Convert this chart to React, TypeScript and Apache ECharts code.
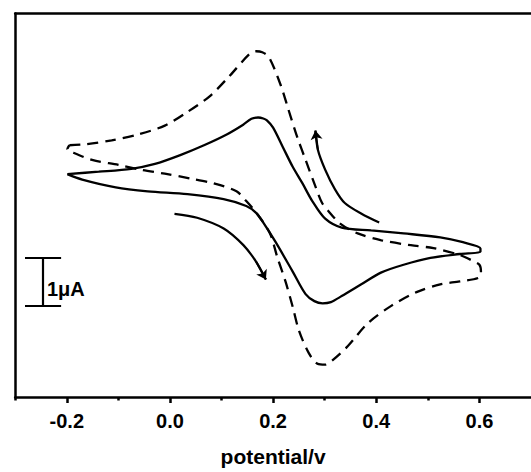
import React, { useEffect, useRef } from "react";
import * as echarts from "echarts";

// x range (potential, V) and y range (current, µA)
const xRange = [-0.3, 0.7];
const yRange = [-4, 4];
const majorTicks = [-0.2, 0, 0.2, 0.4, 0.6];
const minorTicks = [-0.3, -0.1, 0.1, 0.3, 0.5];

// solid CV loop [potential, current]
const solidCurve: [number, number][] = [
  [-0.199, 0.65], [-0.138, 0.70], [-0.075, 0.761], [-0.029, 0.863], [0.020, 1.047],
  [0.066, 1.252], [0.110, 1.477], [0.142, 1.681], [0.158, 1.804], [0.171, 1.83],
  [0.181, 1.81], [0.188, 1.77], [0.200, 1.62], [0.219, 1.211], [0.238, 0.802],
  [0.257, 0.455], [0.276, 0.087], [0.301, -0.281], [0.333, -0.465], [0.390, -0.526],
  [0.453, -0.588], [0.524, -0.669], [0.568, -0.771], [0.602, -0.90], [0.602, -0.97],
  [0.562, -1.017], [0.505, -1.098], [0.453, -1.241], [0.409, -1.405], [0.371, -1.65],
  [0.333, -1.895], [0.312, -2.02], [0.296, -2.045], [0.280, -2.0], [0.263, -1.854],
  [0.238, -1.384], [0.205, -0.771], [0.181, -0.362], [0.167, -0.158], [0.148, -0.015],
  [0.104, 0.128], [0.034, 0.23], [-0.043, 0.291], [-0.105, 0.373], [-0.170, 0.536],
  [-0.199, 0.65],
];

// dashed CV loop [potential, current]
const dashedCurve: [number, number][] = [
  [-0.195, 1.252], [-0.163, 1.272], [-0.113, 1.354], [-0.062, 1.477], [-0.010, 1.661],
  [0.034, 1.947], [0.077, 2.273], [0.116, 2.702], [0.154, 3.152], [0.167, 3.213],
  [0.179, 3.193], [0.192, 3.09], [0.215, 2.498], [0.230, 1.987], [0.247, 1.415],
  [0.263, 0.945], [0.282, 0.394], [0.295, 0.046], [0.307, -0.118], [0.330, -0.384],
  [0.364, -0.588], [0.410, -0.731], [0.467, -0.834], [0.511, -0.895], [0.562, -1.037],
  [0.587, -1.16], [0.600, -1.241], [0.603, -1.384], [0.600, -1.507], [0.562, -1.589],
  [0.524, -1.65], [0.478, -1.813], [0.429, -2.099], [0.383, -2.467], [0.345, -2.937],
  [0.314, -3.243], [0.301, -3.325], [0.286, -3.305], [0.269, -3.08], [0.250, -2.61],
  [0.238, -2.12], [0.224, -1.589], [0.208, -1.078], [0.194, -0.588], [0.169, -0.179],
  [0.148, 0.087], [0.129, 0.291], [0.085, 0.455], [0.040, 0.557], [-0.010, 0.659],
  [-0.056, 0.741], [-0.100, 0.843], [-0.151, 0.945], [-0.190, 1.109], [-0.199, 1.17],
  [-0.195, 1.252],
];

// sweep-direction arrows (last point is the tip)
const arrowUp: [number, number][] = [
  [0.4057, -0.362], [0.3714, -0.178], [0.339, 0.046], [0.320, 0.332],
  [0.301, 0.741], [0.287, 1.15], [0.282, 1.558],
];
const arrowDown: [number, number][] = [
  [0.0088, -0.179], [0.0527, -0.26], [0.1042, -0.485], [0.1424, -0.832],
  [0.1672, -1.18], [0.186, -1.547],
];

// 1 µA scale bar
const barX = [-0.281, -0.2475, -0.211];
const barY = [-2.1, -1.1];
const barLabel = "1\u03bcA";

const FONT = "'Liberation Sans', Arial, sans-serif";

export default function App() {
  const ref = useRef<HTMLDivElement>(null);
  useEffect(() => {
    if (!ref.current) return;
    const chart = echarts.init(ref.current, undefined, { renderer: "svg" });
    const black = "#000";
    const last2 = (a: [number, number][]) => [a[a.length - 2], a[a.length - 1]];
    chart.setOption({
      animation: false,
      backgroundColor: "#fff",
      grid: { left: 15.2, top: 13.5, bottom: 67, right: -8.2, containLabel: false },
      xAxis: [
        {
          type: "value",
          position: "bottom",
          min: xRange[0],
          max: xRange[1],
          axisLine: { show: true, onZero: false, lineStyle: { color: black, width: 2.5 } },
          axisTick: { show: true, customValues: majorTicks, length: 6, lineStyle: { color: black, width: 2.5 } },
          axisLabel: {
            show: true,
            customValues: majorTicks,
            formatter: (v: number) => v.toFixed(1),
            color: black,
            fontSize: 20,
            fontWeight: "bold",
            fontFamily: FONT,
            margin: 14,
          },
          splitLine: { show: false },
          name: "potential/v",
          nameLocation: "middle",
          nameGap: 49,
          nameTextStyle: { color: black, fontSize: 21, fontWeight: "bold", fontFamily: FONT },
        },
        {
          type: "value",
          position: "bottom",
          min: xRange[0],
          max: xRange[1],
          axisLine: { show: false, onZero: false },
          axisTick: { show: true, customValues: minorTicks, length: 3.5, lineStyle: { color: black, width: 2.5 } },
          axisLabel: { show: false },
          splitLine: { show: false },
        },
        {
          type: "value",
          position: "top",
          min: xRange[0],
          max: xRange[1],
          axisLine: { show: true, onZero: false, lineStyle: { color: black, width: 2.5 } },
          axisTick: { show: false },
          axisLabel: { show: false },
          splitLine: { show: false },
        },
      ],
      yAxis: {
        type: "value",
        position: "left",
        min: yRange[0],
        max: yRange[1],
        axisLine: { show: true, onZero: false, lineStyle: { color: black, width: 2.5 } },
        axisTick: { show: false },
        axisLabel: { show: false },
        splitLine: { show: false },
      },
      series: [
        {
          type: "line",
          data: solidCurve,
          smooth: 0.3,
          showSymbol: false,
          symbol: "none",
          lineStyle: { color: black, width: 2.3 },
        },
        {
          type: "line",
          data: dashedCurve,
          smooth: 0.3,
          showSymbol: false,
          symbol: "none",
          lineStyle: { color: black, width: 2.3, type: [11, 7] },
        },
        {
          type: "line",
          data: arrowUp,
          smooth: 0.3,
          showSymbol: false,
          symbol: "none",
          lineStyle: { color: black, width: 2.2 },
        },
        {
          type: "line",
          data: arrowDown,
          smooth: 0.3,
          showSymbol: false,
          symbol: "none",
          lineStyle: { color: black, width: 2.2 },
        },
        {
          type: "lines",
          coordinateSystem: "cartesian2d",
          symbol: ["none", "arrow"],
          symbolSize: [0, 9],
          lineStyle: { color: black, width: 2, curveness: 0, opacity: 1 },
          data: [{ coords: last2(arrowUp) }, { coords: last2(arrowDown) }],
        },
        {
          type: "lines",
          coordinateSystem: "cartesian2d",
          symbol: "none",
          lineStyle: { color: black, width: 2.2, opacity: 1 },
          data: [
            { coords: [[barX[1], barY[0]], [barX[1], barY[1]]] },
            { coords: [[barX[0], barY[1]], [barX[2], barY[1]]] },
            { coords: [[barX[0], barY[0]], [barX[2], barY[0]]] },
          ],
        },
      ],
      graphic: [
        {
          type: "text",
          left: 47,
          top: 279,
          style: { text: barLabel, fill: black, fontSize: 20, fontWeight: "bold", fontFamily: FONT },
        },
      ],
    });
    return () => chart.dispose();
  }, []);
  return (
    <div
      ref={ref}
      style={{ position: "fixed", left: 0, top: 0, width: 531, height: 472, background: "#fff" }}
    />
  );
}
